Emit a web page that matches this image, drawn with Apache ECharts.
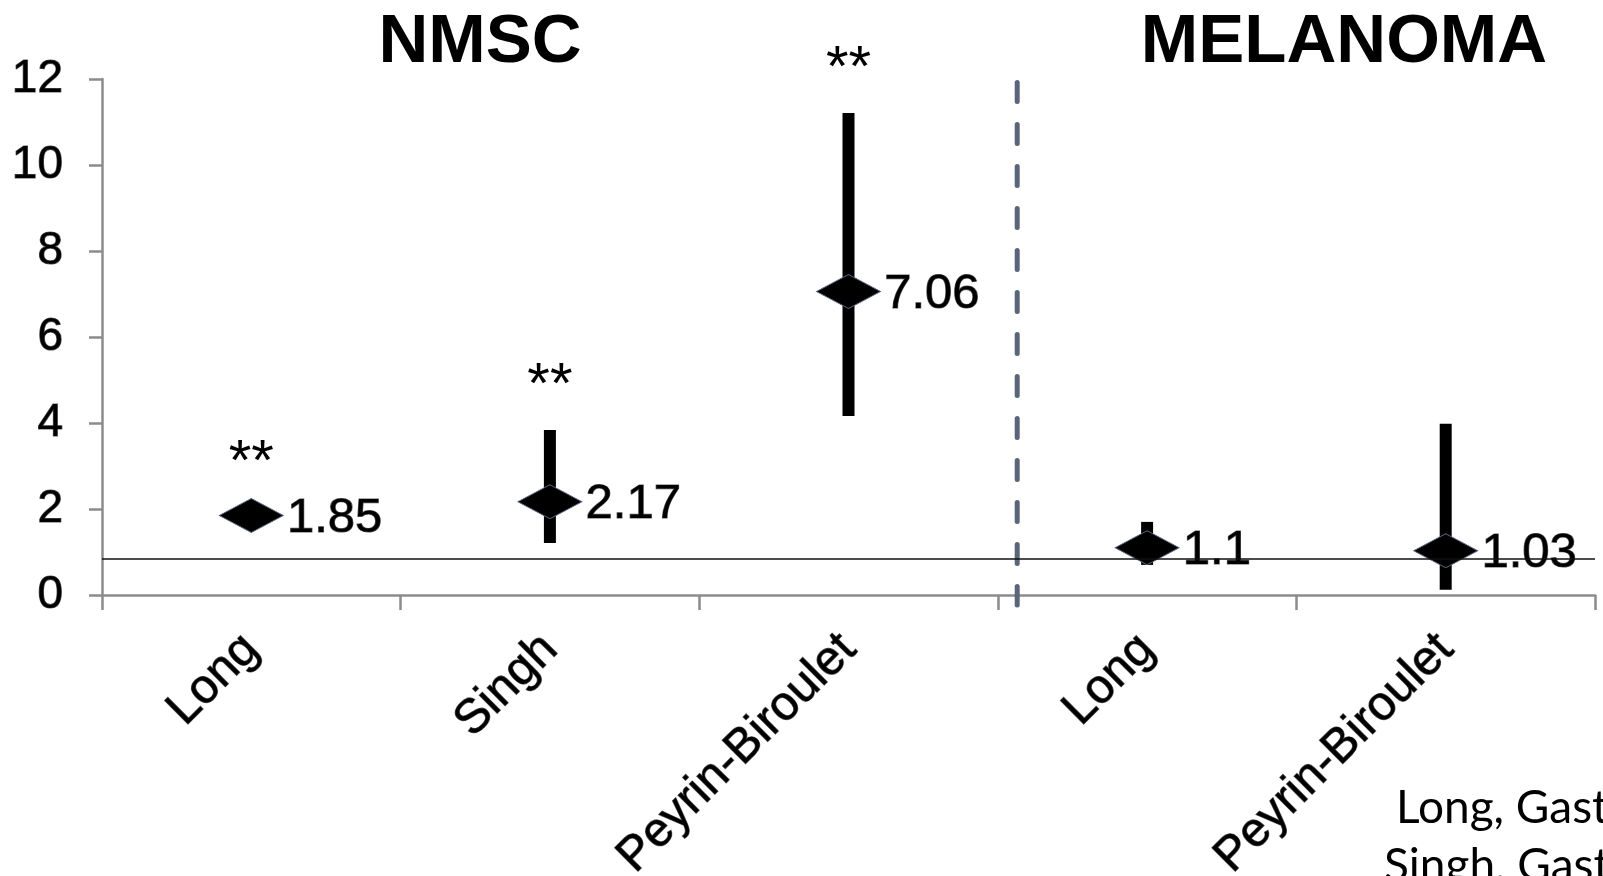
<!DOCTYPE html>
<html>
<head>
<meta charset="utf-8">
<script src="https://cdn.jsdelivr.net/npm/echarts@6/dist/echarts.min.js"></script>
<style>
  html, body { margin: 0; padding: 0; background: #fff; }
  #chart { width: 1603px; height: 876px; }
</style>
</head>
<body>
<div id="chart"></div>
<script>
// ---- data ----
const categories = ['Long', 'Singh', 'Peyrin-Biroulet', 'Long', 'Peyrin-Biroulet'];
const estimates = [1.85, 2.17, 7.06, 1.1, 1.03];
const ciLower = [1.66, 1.21, 4.16, 0.70, 0.12];
const ciUpper = [2.05, 3.84, 11.21, 1.70, 3.98];
const significance = ['**', '**', '**', '', ''];
const groupTitles = ['NMSC', 'MELANOMA'];
const referenceValue = 0.84;
const dividerPosition = 3.065;   // on a 0..5 category-span scale
const sources = ['Long, Gastroenterology 2012', 'Singh, Gastroenterology 2011'];
const yMin = 0, yMax = 12, yStep = 2;

const chart = echarts.init(document.getElementById('chart'), null, { renderer: 'canvas' });

const axisGray = '#8c8c8c';
const baseFont = "'Liberation Sans', Arial, sans-serif";
const heavy = { textBorderColor: 'rgba(40,40,40,0.75)', textBorderWidth: 1.2 };

const errData = categories.map((c, i) => [i, ciLower[i], ciUpper[i], significance[i]]);

const option = {
  animation: false,
  backgroundColor: '#ffffff',
  grid: { left: 102, right: 8, top: 79, bottom: 281, containLabel: false, outerBoundsMode: 'none' },
  xAxis: [
    {
      type: 'category',
      data: categories,
      boundaryGap: true,
      axisLine: { show: true, lineStyle: { color: axisGray, width: 2.5 } },
      axisTick: { show: true, length: 15, lineStyle: { color: axisGray, width: 2.5 } },
      axisLabel: Object.assign({
        interval: 0, rotate: 45, margin: 47,
        fontFamily: baseFont, fontSize: 48, color: '#000'
      }, heavy),
      splitLine: { show: false }
    },
    { type: 'value', min: 0, max: categories.length, show: false }
  ],
  yAxis: {
    type: 'value', min: yMin, max: yMax, interval: yStep,
    axisLine: { show: true, lineStyle: { color: axisGray, width: 2.5 } },
    axisTick: { show: true, length: 13, lineStyle: { color: axisGray, width: 2.5 } },
    axisLabel: Object.assign({ margin: 39, fontFamily: baseFont, fontSize: 46, color: '#000' }, heavy),
    splitLine: { show: false }
  },
  graphic: [
    { type: 'text', x: 480, y: 43, z: 10,
      style: { text: groupTitles[0], align: 'center', verticalAlign: 'middle',
        font: "bold 69px 'Liberation Sans', Arial, sans-serif", fill: '#000' } },
    { type: 'text', x: 1344, y: 43, z: 10,
      style: { text: groupTitles[1], align: 'center', verticalAlign: 'middle',
        font: "bold 69px 'Liberation Sans', Arial, sans-serif", fill: '#000' } },
    { type: 'text', x: 1396, y: 808, z: 10,
      style: { text: sources[0], align: 'left', verticalAlign: 'middle',
        font: "46px Lato, 'Open Sans', sans-serif", fill: '#000' } },
    { type: 'text', x: 1384, y: 866, z: 10,
      style: { text: sources[1], align: 'left', verticalAlign: 'middle',
        font: "46px Lato, 'Open Sans', sans-serif", fill: '#000' } }
  ],
  series: [
    {
      name: 'divider',
      type: 'custom',
      xAxisIndex: 1,
      yAxisIndex: 0,
      silent: true,
      z: 1,
      data: [[dividerPosition, yMax, yMin]],
      renderItem: function (params, api) {
        const top = api.coord([api.value(0), api.value(1)]);
        const bot = api.coord([api.value(0), api.value(2)]);
        return {
          type: 'line',
          shape: { x1: top[0], y1: top[1] + 3.5, x2: bot[0], y2: bot[1] + 10 },
          style: { stroke: '#5b6579', lineWidth: 5, lineDash: [19, 23], lineCap: 'round' }
        };
      }
    },
    {
      name: 'CI',
      type: 'custom',
      xAxisIndex: 0,
      yAxisIndex: 0,
      z: 3,
      data: errData,
      encode: { x: 0, y: [1, 2] },
      renderItem: function (params, api) {
        const lo = api.coord([api.value(0), api.value(1)]);
        const hi = api.coord([api.value(0), api.value(2)]);
        const w = 12;
        const children = [
          { type: 'rect', shape: { x: lo[0] - w / 2, y: hi[1], width: w, height: lo[1] - hi[1] },
            style: { fill: '#000' } }
        ];
        const sig = errData[params.dataIndex][3];
        if (sig) {
          children.push({
            type: 'text',
            x: hi[0], y: hi[1] - 43,
            style: { text: sig, align: 'center', verticalAlign: 'middle',
              font: "58px 'Liberation Sans', Arial, sans-serif", fill: '#000' }
          });
        }
        return { type: 'group', children: children };
      }
    },
    {
      name: 'Estimate',
      type: 'scatter',
      xAxisIndex: 0,
      yAxisIndex: 0,
      z: 4,
      symbol: 'diamond',
      symbolSize: [64, 34],
      itemStyle: { color: '#000', borderColor: '#5a6580', borderWidth: 1, opacity: 1 },
      label: Object.assign({
        show: true, position: 'right', distance: 3, offset: [0, 3],
        fontFamily: baseFont, fontSize: 49, color: '#000',
        formatter: function (p) { return String(p.value[1]); }
      }, heavy),
      data: estimates.map((v, i) => [i, v]),
      markLine: {
        silent: true,
        symbol: ['none', 'none'],
        label: { show: false },
        lineStyle: { color: '#111', width: 1.5, type: 'solid' },
        data: [{ yAxis: referenceValue }]
      }
    }
  ]
};

chart.setOption(option);
</script>
</body>
</html>
